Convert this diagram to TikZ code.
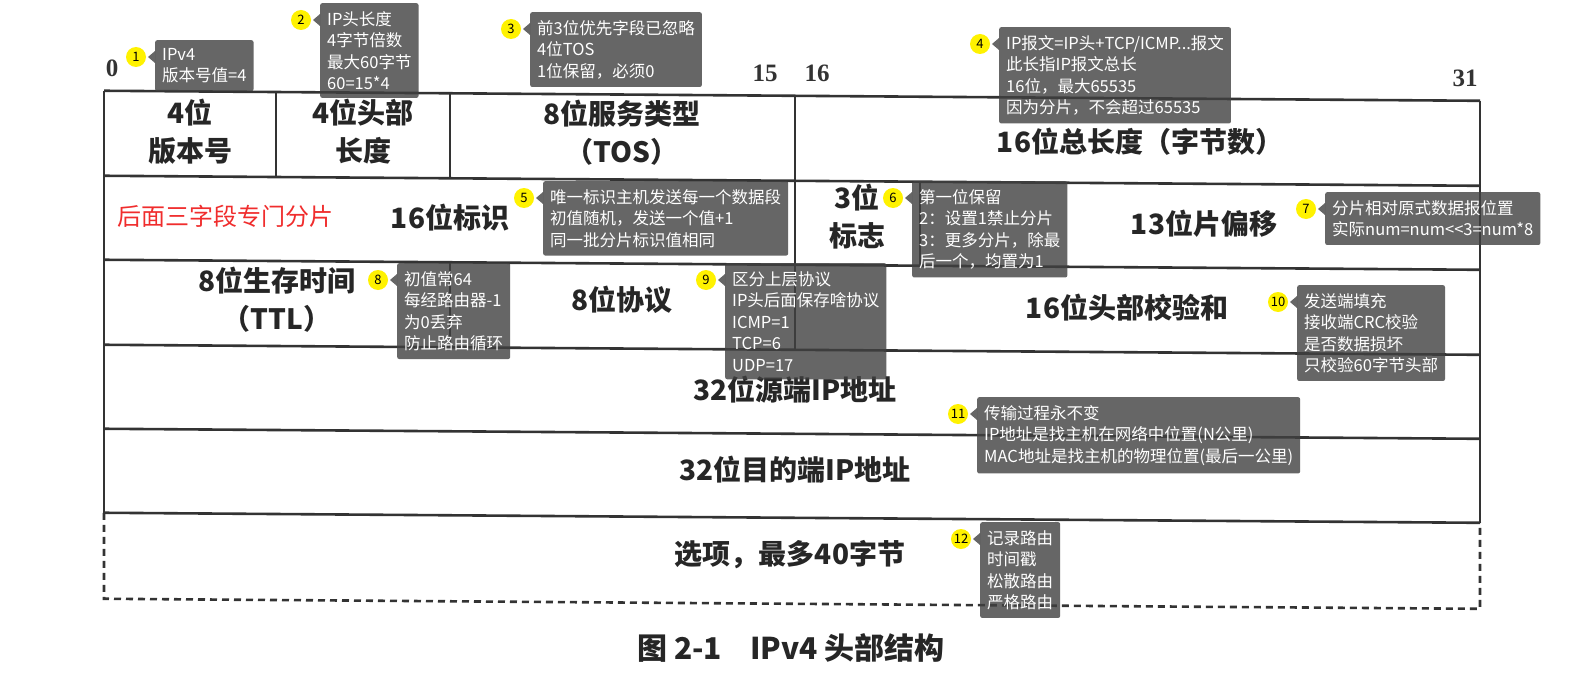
\documentclass[tikz,border=0pt]{standalone}
\usepackage{fontspec}
\setmainfont{Liberation Serif}
\newfontfamily\cjk{Noto Sans CJK SC}
\definecolor{notered}{RGB}{240,45,45}
\tikzset{
  tbl/.style={line width=2.6pt, black!80},
  field/.style={font=\cjk\bfseries\fontsize{28}{38}\selectfont, text=black!85, align=center},
  bitno/.style={font=\bfseries\fontsize{25}{25}\selectfont, text=black!80},
  notebox/.style={anchor=north west, fill=black!75, fill opacity=.8, text opacity=1,
    text=white, rounded corners=2pt, align=left, inner xsep=7pt, inner ysep=8pt,
    font=\cjk\fontsize{16.5}{21.5}\selectfont},
  notetip/.style={fill=black!75, fill opacity=.8},
  badge/.style={circle, fill=yellow, inner sep=0pt, minimum size=20pt,
    font=\cjk\fontsize{13}{13}\selectfont},
}
% numbered note: #1 number, (#2,#3) top left corner of the box, #4 text
\newcommand{\tipnote}[4]{%
  \node[notebox] (note#1) at (#2,#3) {#4};
  \node[badge] (mark#1) at (#2-19,#3+17) {#1};
  \fill[notetip] (#2,#3+11)--(#2-7,#3+17)--(#2,#3+23)--cycle;
}

\begin{document}
\begin{tikzpicture}[x=1pt,y=-1pt]
    \useasboundingbox (0,0) rectangle (1571,690);
    \fill[white] (0,0) rectangle (1571,690);

    % table (the scan is a bit skewed)
    \begin{scope}[yslant=-0.0073, tbl]
        \foreach \y in {90,175,259,344,428,512}{
            \draw (104,\y)--(1480,\y);
        }
        \draw (104,90)--(104,512);
        \draw (1480,90)--(1480,512);
        \draw[dash pattern=on 7pt off 5pt] (104,512)--(104,598)--(1480,598)--(1480,512);

        \foreach \x/\ya/\yb in {
            276/90/175, 450/90/175, 795/90/175,
            795/175/259, 920/175/259,
            450/259/344, 795/259/344
        }{
            \draw (\x,\ya)--(\x,\yb);
        }
    \end{scope}

    % bit numbers
    \foreach \name/\x/\y/\txt in {b0/112/68/0, b15/765/73/15, b16/817/73/16, b31/1465/78/31}{
        \node[bitno] (\name) at (\x,\y) {\txt};
    }

    % fields
    \node[field] (ver)   at (190,132) {4位\\版本号};
    \node[field] (hlen)  at (363,132) {4位头部\\长度};
    \node[field] (tos)   at (622,133) {8位服务类型\\（TOS）};
    \node[field] (tlen)  at (1140,142) {16位总长度（字节数）};
    \node[field] (ident) at (450,218) {16位标识};
    \node[field] (flags) at (857,217) {3位\\标志};
    \node[field] (frag)  at (1204,224) {13位片偏移};
    \node[field] (ttl)   at (277,300) {8位生存时间\\（TTL）};
    \node[field] (proto) at (622,300) {8位协议};
    \node[field] (csum)  at (1127,308) {16位头部校验和};
    \node[field] (src)   at (795,390) {32位源端IP地址};
    \node[field] (dst)   at (795,470) {32位目的端IP地址};
    \node[field] (opt)   at (790,555) {选项，最多40字节};
    \node[field, font=\cjk\bfseries\fontsize{30}{30}\selectfont] (cap) at (791,648) {图 2-1\hspace{28pt}IPv4 头部结构};

    \node[font=\cjk\fontsize{24}{24}\selectfont, text=notered] (fragnote) at (225,216) {后面三字段专门分片};

    % notes
    \tipnote{1}{155}{40}{IPv4\\版本号值=4}
    \tipnote{2}{320}{3}{IP头长度\\4字节倍数\\最大60字节\\60=15*4}
    \tipnote{3}{530}{12}{前3位优先字段已忽略\\4位TOS\\1位保留，必须0}
    \tipnote{4}{999}{27}{IP报文=IP头+TCP/ICMP...报文\\此长指IP报文总长\\16位，最大65535\\因为分片，不会超过65535}
    \tipnote{5}{543}{181}{唯一标识主机发送每一个数据段\\初值随机，发送一个值+1\\同一批分片标识值相同}
    \tipnote{6}{912}{181}{第一位保留\\2：设置1禁止分片\\3：更多分片，除最\\后一个，均置为1}
    \tipnote{7}{1325}{192}{分片相对原式数据报位置\\实际num=num<<3=num*8}
    \tipnote{8}{397}{263}{初值常64\\每经路由器-1\\为0丢弃\\防止路由循环}
    \tipnote{9}{725}{263}{区分上层协议\\IP头后面保存啥协议\\ICMP=1\\TCP=6\\UDP=17}
    \tipnote{10}{1297}{285}{发送端填充\\接收端CRC校验\\是否数据损坏\\只校验60字节头部}
    \tipnote{11}{977}{397}{传输过程永不变\\IP地址是找主机在网络中位置(N公里)\\MAC地址是找主机的物理位置(最后一公里)}
    \tipnote{12}{980}{522}{记录路由\\时间戳\\松散路由\\严格路由}
\end{tikzpicture}
\end{document}
